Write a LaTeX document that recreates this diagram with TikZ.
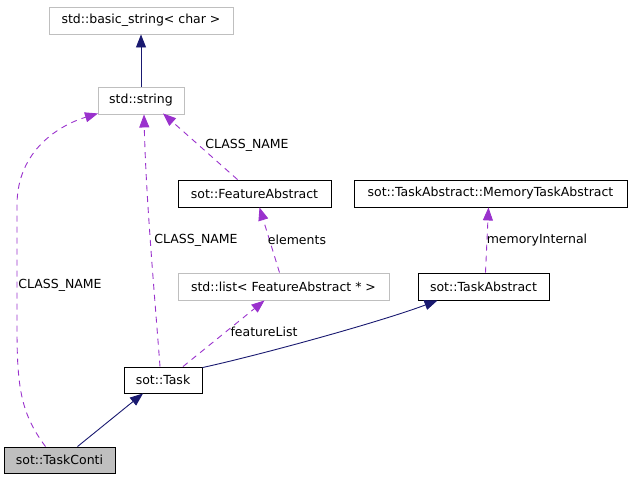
\documentclass[tikz,border=0pt]{standalone}
\usepackage{fontspec}
\setmainfont{DejaVu Sans}
\usetikzlibrary{arrows.meta}
\definecolor{edgenavy}{HTML}{191970}
\definecolor{edgepurple}{HTML}{9A32CD}
\definecolor{boxgray}{HTML}{BFBFBF}
\tikzset{
  classbox/.style={draw=black,line width=0.9pt,minimum height=27pt,inner xsep=0pt,
    font=\fontsize{12.5}{14}\selectfont},
  extbox/.style={classbox,draw=boxgray},
  focusbox/.style={classbox,fill=boxgray},
  inherit/.style={-{Triangle[length=13pt,width=10pt]},draw=edgenavy,line width=0.9pt},
  usage/.style={-{Triangle[length=13pt,width=10pt]},draw=edgepurple,line width=0.9pt,
    dash pattern=on 6pt off 5pt},
  elabel/.style={font=\fontsize{12.5}{14}\selectfont,inner sep=0pt}
}

\begin{document}
\begin{tikzpicture}[x=1pt,y=-1pt]
  \useasboundingbox (0,0) rectangle (632,480);
  \node[extbox,minimum width=184pt] (basic) at (141,20.5) {std::basic\_string< char >};
  \node[extbox,minimum width=86pt] (string) at (141,100.5) {std::string};
  \node[classbox,minimum width=153pt] (feat) at (254.5,193.5) {sot::FeatureAbstract};
  \node[classbox,minimum width=273pt] (mem) at (490.5,193.5) {sot::TaskAbstract::MemoryTaskAbstract};
  \node[extbox,minimum width=211pt] (list) at (283.5,286.5) {std::list< FeatureAbstract * >};
  \node[classbox,minimum width=131pt] (tabs) at (483.5,286.5) {sot::TaskAbstract};
  \node[classbox,minimum width=78pt,minimum height=26pt] (task) at (163,380) {sot::Task};
  \node[focusbox,minimum width=111pt,minimum height=26pt] (conti) at (59.5,460) {sot::TaskConti};
  % inheritance
  \draw[inherit] (string) -- (basic);
  \draw[inherit] ([xshift=18pt]conti.north) -- ([xshift=-20pt]task.south);
  \draw[inherit] ([yshift=-1pt]task.north east) .. controls (260,355) and (380,322) .. ([xshift=-46pt]tabs.south);
  % members
  \draw[usage] ([xshift=-3pt]task.north) .. controls (155,300) and (146,200) .. ([xshift=3pt]string.south);
  \draw[usage] ([xshift=-17pt]feat.north) -- ([xshift=22pt,yshift=1pt]string.south);
  \draw[usage] ([xshift=-14pt]conti.north) .. controls (22,415) and (17,390) .. (17,330)
    -- (17,205) .. controls (17,150) and (60,125) .. ([xshift=-43pt,yshift=1pt]string.south);
  \draw[usage] ([xshift=-4pt]list.north) -- ([xshift=5pt]feat.south);
  \draw[usage] ([xshift=20pt]task.north) -- ([xshift=-19pt]list.south);
  \draw[usage] ([xshift=2pt]tabs.north) -- ([xshift=-2pt]mem.south);
  % labels
  \node[elabel] (lblfeat) at (247,145) {CLASS\_NAME};
  \node[elabel] (lbltask) at (196,240) {CLASS\_NAME};
  \node[elabel] (lblconti) at (60,285) {CLASS\_NAME};
  \node[elabel] (lblelem) at (297,240) {elements};
  \node[elabel] (lbllist) at (264,332) {featureList};
  \node[elabel] (lblmem) at (537,240) {memoryInternal};
\end{tikzpicture}
\end{document}
